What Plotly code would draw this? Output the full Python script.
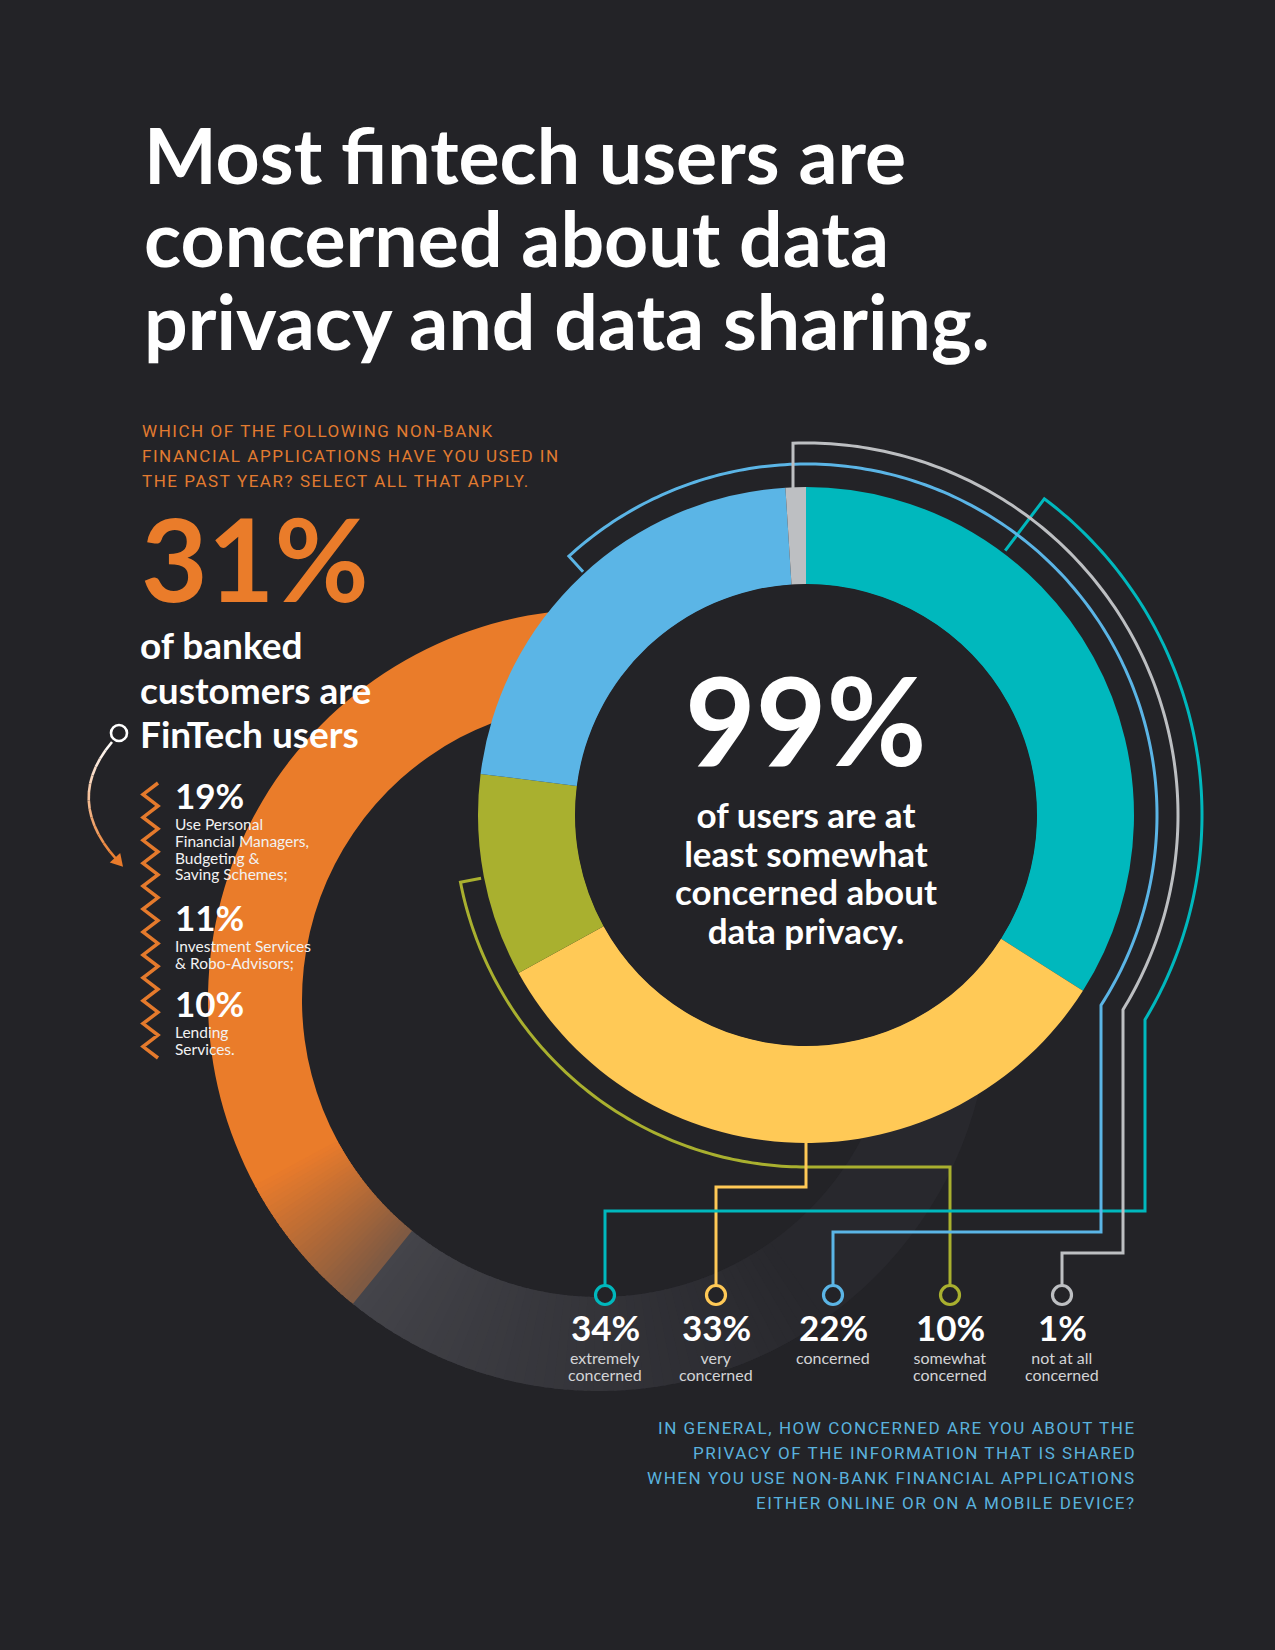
import numpy as np
import plotly.graph_objects as go

# ---------------- data ----------------
concern_levels = ["extremely concerned", "very concerned", "concerned",
                  "somewhat concerned", "not at all concerned"]
concern_share = [34, 33, 22, 10, 1]
concern_pct_labels = ["34%", "33%", "22%", "10%", "1%"]
concern_sub_labels = [["extremely", "concerned"], ["very", "concerned"], ["concerned"],
                      ["somewhat", "concerned"], ["not at all", "concerned"]]
# order of the slices in the donut, clockwise from 12 o'clock
donut_order = ["extremely concerned", "very concerned", "somewhat concerned",
               "concerned", "not at all concerned"]

fintech_groups = ["FinTech users", "Other banked customers"]
fintech_share = [31, 69]

app_pct_labels = ["19%", "11%", "10%"]
app_desc = [["Use Personal", "Financial Managers,", "Budgeting &", "Saving Schemes;"],
            ["Investment Services", "& Robo-Advisors;"],
            ["Lending", "Services."]]

headline_pct = "99%"
headline_text = ["of users are at", "least somewhat", "concerned about", "data privacy."]
title_lines = ["Most fintech users are", "concerned about data", "privacy and data sharing."]
q1_lines = ["WHICH OF THE FOLLOWING NON-BANK",
            "FINANCIAL APPLICATIONS HAVE YOU USED IN",
            "THE PAST YEAR? SELECT ALL THAT APPLY."]
q2_lines = ["IN GENERAL, HOW CONCERNED ARE YOU ABOUT THE",
            "PRIVACY OF THE INFORMATION THAT IS SHARED",
            "WHEN YOU USE NON-BANK FINANCIAL APPLICATIONS",
            "EITHER ONLINE OR ON A MOBILE DEVICE?"]
fintech_text = ["of banked", "customers are", "FinTech users"]

# ---------------- styling / layout constants ----------------
W, H = 1275, 1650
BG = "#232327"
COLORS = {"extremely concerned": "#00B8BD", "very concerned": "#FFC956",
          "concerned": "#5BB5E6", "somewhat concerned": "#A9B02F",
          "not at all concerned": "#BDBFC2"}
ORANGE = "#EA7C2A"
MC, R_OUT, R_IN = (806, 815), 328, 231          # main donut
RC, RR_OUT, RR_IN = (599, 1000), 391, 297       # orange ring
BOTTOM_X = [605, 716, 833, 950, 1062]           # label columns (order of concern_levels)
CIRC_Y, CIRC_R = 1295, 9.5
BOLD = "Lato"
ASC, DESC = 0.975, 0.225


def dom(c, r):
    return dict(x=[(c[0] - r) / W, (c[0] + r) / W], y=[1 - (c[1] + r) / H, 1 - (c[1] - r) / H])


def P(c, r, th):
    a = np.radians(th)
    return (c[0] + r * np.sin(a), c[1] - r * np.cos(a))


def arc(c, r, t0, t1, n=90):
    return [P(c, r, t) for t in np.linspace(t0, t1, n)]


def path(pts, close=False):
    s = "M " + " L ".join(f"{x:.2f},{y:.2f}" for x, y in pts)
    return s + (" Z" if close else "")


def band(c, r0, r1, t0, t1, n=6):
    return path(arc(c, r1, t0, t1, n) + arc(c, r0, t1, t0, n), close=True)


def mix(c1, c2, f):
    a = [int(c1[i:i + 2], 16) for i in (1, 3, 5)]
    b = [int(c2[i:i + 2], 16) for i in (1, 3, 5)]
    return "rgb(%d,%d,%d)" % tuple(round(a[k] + (b[k] - a[k]) * f) for k in range(3))


fig = go.Figure()

# orange ring: share of banked customers who are FinTech users (drawn clockwise: other, fintech)
fig.add_trace(go.Pie(
    values=[fintech_share[1], fintech_share[0]], labels=[fintech_groups[1], fintech_groups[0]],
    marker=dict(colors=["#28282D", ORANGE], line=dict(width=0)),
    hole=RR_IN / RR_OUT, sort=False, direction="clockwise", rotation=-7,
    textinfo="none", hoverinfo="label+value", domain=dom(RC, RR_OUT), showlegend=False))

# main donut: level of concern
fig.add_trace(go.Pie(
    values=[concern_share[concern_levels.index(l)] for l in donut_order], labels=donut_order,
    marker=dict(colors=[COLORS[l] for l in donut_order], line=dict(width=0)),
    hole=R_IN / R_OUT, sort=False, direction="clockwise", rotation=0,
    textinfo="none", hoverinfo="label+percent", domain=dom(MC, R_OUT), showlegend=False))

shapes = []
# fill the hole of the main donut so the ring behind it is hidden
shapes.append(dict(type="circle", xref="x", yref="y", x0=MC[0] - R_IN + 0.5, x1=MC[0] + R_IN - 0.5,
                   y0=MC[1] - R_IN + 0.5, y1=MC[1] + R_IN - 0.5, fillcolor=BG, line=dict(width=0),
                   layer="above"))

# gradient fading of the ring (orange -> brown, then grey fading out)
orange_end = 360 - 7 - 360 * fintech_share[0] / 100.0
edge = 219.0
n_o = 30
for i in range(n_o):
    t1 = orange_end - (orange_end - edge) * i / n_o
    t0 = orange_end - (orange_end - edge) * (i + 1) / n_o
    col = mix("#E97B2B", "#7D5943", (i + 0.5) / n_o)
    shapes.append(dict(type="path", xref="x", yref="y", path=band(RC, RR_IN, RR_OUT, t0 - 0.3, t1 + 0.3),
                       fillcolor=col, line=dict(width=0), layer="above"))
n_g = 50
g_end = 145.0
for i in range(n_g):
    t1 = edge - (edge - g_end) * i / n_g
    t0 = edge - (edge - g_end) * (i + 1) / n_g
    f = ((i + 0.5) / n_g) ** 0.8
    col = mix("#45454B", "#28282D", f)
    shapes.append(dict(type="path", xref="x", yref="y",
                       path=band(RC, RR_IN, RR_OUT, t0 - 0.25, min(t1 + 0.25, edge)),
                       fillcolor=col, line=dict(width=0), layer="above"))


def th_at_x(c, r, xv):
    return 180 - np.degrees(np.arcsin((xv - c[0]) / r))


ctop = CIRC_Y - CIRC_R
xi = {l: BOTTOM_X[i] for i, l in enumerate(concern_levels)}
# blue bracket -> "concerned"
tb = th_at_x(MC, 351, 1101)
blue_pts = [P(MC, 330, 317.5)] + arc(MC, 351, 317.5, 360 + tb, 200) + [(1101, 1232), (xi["concerned"], 1232),
                                                                        (xi["concerned"], ctop)]
# grey bracket -> "not at all concerned"
tg0 = -np.degrees(np.arcsin(13 / 372))
tg = th_at_x(MC, 372, 1123)
grey_pts = [(793, MC[1] - R_OUT + 1)] + arc(MC, 372, tg0, tg, 150) + [(1123, 1253), (xi["not at all concerned"], 1253),
                                                                     (xi["not at all concerned"], ctop)]
# teal bracket -> "extremely concerned"
tt = th_at_x(MC, 396, 1145)
teal_pts = [P(MC, 331, 37)] + arc(MC, 396, 37, tt, 120) + [(1145, 1211), (xi["extremely concerned"], 1211),
                                                           (xi["extremely concerned"], ctop)]
# yellow -> "very concerned"
yel_pts = [(MC[0], MC[1] + R_OUT), (MC[0], 1187), (xi["very concerned"], 1187), (xi["very concerned"], ctop)]
# green bracket -> "somewhat concerned"
grn_pts = [P(MC, 331, 259)] + arc(MC, 352, 259, 180, 100) + [(xi["somewhat concerned"], 1167),
                                                            (xi["somewhat concerned"], ctop)]

for pts, lvl in [(grn_pts, "somewhat concerned"), (yel_pts, "very concerned"), (teal_pts, "extremely concerned"),
                 (blue_pts, "concerned"), (grey_pts, "not at all concerned")]:
    shapes.append(dict(type="path", xref="x", yref="y", path=path(pts), line=dict(color=COLORS[lvl], width=3),
                       fillcolor="rgba(0,0,0,0)", layer="above"))

for i, lvl in enumerate(concern_levels):
    x = BOTTOM_X[i]
    shapes.append(dict(type="circle", xref="x", yref="y", x0=x - CIRC_R, x1=x + CIRC_R, y0=CIRC_Y - CIRC_R,
                       y1=CIRC_Y + CIRC_R, line=dict(color=COLORS[lvl], width=3.2), fillcolor=BG, layer="above"))

# zigzag beside the application list
zz_y = np.linspace(783, 1058, 25)
zz = [(158 if k % 2 == 0 else 143, y) for k, y in enumerate(zz_y)]
shapes.append(dict(type="path", xref="x", yref="y", path=path(zz), line=dict(color="#E57A2C", width=3.5),
                   fillcolor="rgba(0,0,0,0)", layer="above"))

# small circle + curved arrow
shapes.append(dict(type="circle", xref="x", yref="y", x0=119 - 8, x1=119 + 8, y0=733 - 8, y1=733 + 8,
                   line=dict(color="white", width=2.6), fillcolor=BG, layer="above"))
p0, cc, p2 = np.array([112.0, 742.0]), np.array([63.0, 800.0]), np.array([117.0, 860.0])
ts = np.linspace(0, 1, 15)
bez = [(1 - t) ** 2 * p0 + 2 * (1 - t) * t * cc + t ** 2 * p2 for t in ts]
for k in range(len(bez) - 1):
    col = mix("#FFFFFF", "#E97B2B", (k + 0.5) / (len(bez) - 1))
    shapes.append(dict(type="path", xref="x", yref="y", path=path([bez[k], bez[k + 1]]),
                       line=dict(color=col, width=2.6), layer="above"))
d = p2 - cc
d = d / np.linalg.norm(d)
nrm = np.array([-d[1], d[0]])
tip = p2 + d * 9
head = [tuple(tip), tuple(p2 - d * 3 + nrm * 7), tuple(p2 - d * 3 - nrm * 7)]
shapes.append(dict(type="path", xref="x", yref="y", path=path(head, close=True), fillcolor="#E97B2B",
                   line=dict(width=0), layer="above"))

# ---------------- text ----------------
ann = []


def T(x, y, text, size, color="white", family=BOLD, weight=400, xanchor="left", yanchor="middle"):
    ann.append(dict(x=x, y=y, xref="x", yref="y", text=text, showarrow=False, xanchor=xanchor, yanchor=yanchor,
                    font=dict(family=family, size=size, color=color, weight=weight), borderpad=0,
                    align="left" if xanchor == "left" else ("right" if xanchor == "right" else "center")))


def block(x, first_baseline, lines, sizes, spacing, color="white", weight=400, xanchor="left"):
    """Multi-line text; line pitch = 1.3 * base font size."""
    base = spacing / 1.3
    html = "<br>".join(f"<span style='font-size:{s}px'>{t}</span>" for t, s in zip(lines, sizes))
    T(x, first_baseline - ASC * sizes[0], html, base, color=color, weight=weight, xanchor=xanchor, yanchor="top")


def big(x, baseline, text, size, color="white", xanchor="left"):
    T(x, baseline + DESC * size, text, size, color=color, weight=700, xanchor=xanchor, yanchor="bottom")


# headline
block(143, 182, title_lines, [77] * 3, 83, weight=700)

# questions (tracked capitals)
LS = "letter-spacing:1.55px"
for i, line in enumerate(q1_lines):
    T(141, [431, 456, 481][i], f"<span style='{LS}'>{line}</span>", 17, color="#E27B30", family="Roboto")
for i, line in enumerate(q2_lines):
    T(1137, [1428, 1453, 1478, 1503][i], f"<span style='{LS}'>{line}</span>", 17, color="#5AB2DE",
      family="Roboto", xanchor="right")

# 31% of banked customers
big(140, 601, f"{fintech_share[0]}%", 115, color=ORANGE)
block(139, 657, fintech_text, [37] * 3, 44.6, weight=700)

# application list
app_base = [809, 931, 1017]
for i, lab in enumerate(app_pct_labels):
    big(174, app_base[i], lab, 35)
    block(174, app_base[i] + 20, app_desc[i], [15.5] * len(app_desc[i]), 16.8, color="#F2F2F2")

# 99% in the centre of the donut
big(MC[0], 766, headline_pct, 122, xanchor="center")
block(MC[0], 826, headline_text, [35] * 4, 38.7, weight=700, xanchor="center")

# bottom labels
for i, lab in enumerate(concern_pct_labels):
    big(BOTTOM_X[i], 1341, lab, 35, xanchor="center")
    subs = concern_sub_labels[i]
    block(BOTTOM_X[i], 1363, subs, [16] * len(subs), 16.5, color="#D3D4D6", xanchor="center")

fig.update_layout(
    width=W, height=H, margin=dict(l=0, r=0, t=0, b=0),
    paper_bgcolor=BG, plot_bgcolor=BG,
    xaxis=dict(range=[0, W], visible=False, showgrid=False, zeroline=False, fixedrange=True),
    yaxis=dict(range=[H, 0], visible=False, showgrid=False, zeroline=False, fixedrange=True),
    shapes=shapes, annotations=ann, showlegend=False)

fig.write_html("out.html", config={"displayModeBar": False, "staticPlot": True},
               post_script="document.body.style.margin='0px';document.body.style.background='%s';" % BG)
